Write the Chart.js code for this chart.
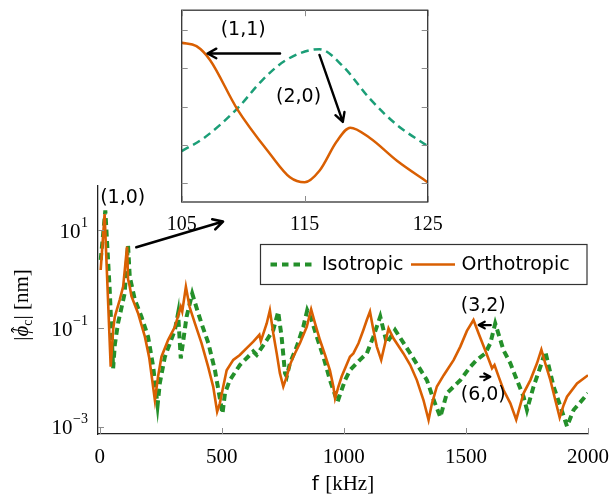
<!DOCTYPE html>
<html>
<head>
<meta charset="utf-8">
<script src="https://cdn.jsdelivr.net/npm/chart.js@4.4.1/dist/chart.umd.min.js"></script>
<style>
  html, body { margin: 0; padding: 0; background: #fff; }
  #wrap { position: relative; width: 612px; height: 498px; }
  #main { position: absolute; left: 0; top: 0; }
  #inset { position: absolute; left: 150px; top: 0; }
</style>
</head>
<body>
<div id="wrap">
  <canvas id="main" width="612" height="498"></canvas>
  <canvas id="inset" width="300" height="235"></canvas>
</div>
<script>
// response amplitude over the full band, f in kHz, |phi_c| in nm
const isoFreq = [4, 23, 41, 55, 62, 75, 102, 116, 123, 144, 171, 198, 219, 237, 246, 267, 308, 321, 332, 356,
  379, 398, 417, 445, 472, 503, 513, 533, 574, 629, 643, 684, 711, 731, 745, 759, 766, 779, 807, 834, 850, 868,
  889, 916, 943, 974, 1005, 1025, 1066, 1094, 1121, 1149, 1176, 1210, 1272, 1340, 1368, 1395, 1422, 1477, 1518,
  1545, 1579, 1600, 1620, 1654, 1682, 1709, 1736, 1750, 1777, 1805, 1825, 1859, 1887, 1914, 1941, 2000]
const isoMag = [2.45, 25, 0.6, 0.0155, 0.047, 0.127, 0.51, 5.0, 1.13, 0.38, 0.173, 0.068, 0.0167, 0.00275, 0.0076,
  0.0266, 0.093, 0.204, 0.0245, 0.174, 0.51, 0.25, 0.126, 0.05, 0.0141, 0.00186, 0.0048, 0.0089, 0.018, 0.034,
  0.029, 0.0575, 0.093, 0.219, 0.068, 0.0123, 0.0105, 0.0195, 0.0427, 0.108, 0.234, 0.148, 0.068, 0.0266, 0.0089,
  0.0032, 0.0089, 0.0141, 0.023, 0.031, 0.068, 0.174, 0.05, 0.093, 0.031, 0.0089, 0.0035, 0.00158, 0.0048, 0.0089,
  0.0166, 0.023, 0.031, 0.05, 0.126, 0.036, 0.0195, 0.0089, 0.0041, 0.0022, 0.0066, 0.0166, 0.034, 0.0066, 0.0026,
  0.00102, 0.0022, 0.0048]

const orthoFreq = [4, 20, 45, 55, 62, 82, 96, 112, 116, 123, 130, 157, 185, 203, 226, 239, 253, 280, 308, 332, 338,
  353, 368, 390, 417, 444, 465, 481, 492, 506, 520, 547, 574, 602, 629, 654, 660, 684, 697, 711, 725, 738, 752, 766,
  779, 793, 820, 848, 866, 882, 902, 923, 943, 957, 964, 978, 991, 1025, 1039, 1060, 1080, 1094, 1107, 1121, 1135,
  1153, 1169, 1183, 1203, 1244, 1272, 1299, 1326, 1347, 1361, 1381, 1409, 1450, 1477, 1504, 1531, 1552, 1579, 1607,
  1617, 1634, 1654, 1682, 1706, 1736, 1764, 1791, 1809, 1825, 1846, 1866, 1884, 1900, 1914, 1955, 2000]
const orthoMag = [1.54, 21, 0.0167, 0.093, 0.174, 0.38, 0.71, 4.57, 1.0, 0.71, 0.45, 0.204, 0.068, 0.025, 0.00347,
  0.0105, 0.0266, 0.058, 0.108, 0.275, 0.219, 0.70, 0.275, 0.127, 0.05, 0.0167, 0.0065, 0.00204, 0.003, 0.0066,
  0.0141, 0.0229, 0.0288, 0.0398, 0.0537, 0.0741, 0.055, 0.126, 0.234, 0.079, 0.0311, 0.0123, 0.0066, 0.0105, 0.018,
  0.0266, 0.05, 0.108, 0.245, 0.126, 0.058, 0.0288, 0.0141, 0.0066, 0.0038, 0.0066, 0.0105, 0.0266, 0.031, 0.05,
  0.093, 0.148, 0.219, 0.093, 0.0427, 0.0229, 0.05, 0.1, 0.063, 0.031, 0.018, 0.0089, 0.0035, 0.00138, 0.003,
  0.0066, 0.0112, 0.0229, 0.0427, 0.089, 0.148, 0.079, 0.036, 0.0155, 0.018, 0.0105, 0.0056, 0.003, 0.0014, 0.0048,
  0.0089, 0.0195, 0.037, 0.0195, 0.0089, 0.0035, 0.00155, 0.00275, 0.0041, 0.0076, 0.0112]

// zoom on 105-125 kHz, amplitude in inset tick units
const zoomIsoFreq = [105, 106.8, 109.5, 111.6, 113.5, 116.2, 118.1, 120.3, 122.5, 125]
const zoomIsoAmp = [0.84, 1.18, 1.94, 2.70, 3.21, 3.49, 3.05, 2.20, 1.52, 0.97]
const zoomOrthoFreq = [105, 106.2, 107.3, 109.5, 112.2, 113.8, 115, 116.2, 117.6, 118.7, 120.3, 122.5, 125]
const zoomOrthoAmp = [3.66, 3.57, 3.21, 1.94, 0.76, 0.16, 0.03, 0.33, 1.09, 1.45, 1.18, 0.59, 0.03]

const xTicks = [0, 500, 1000, 1500, 2000]
const yTicks = [1e-3, 1e-1, 1e1]
const yTickExp = ['\u22123', '\u22121', '1']
const zoomXTicks = [105, 115, 125]
const zoomYTicks = [0, 1, 2, 3, 4]

const GREEN = '#24902a'
const TEAL = '#1b9e77'
const ORANGE = '#d95f02'
const SANS = '"DejaVu Sans", sans-serif'
const SERIF = '"Liberation Serif", "DejaVu Serif", serif'

const toPoints = (xs, ys) => xs.map((x, i) => ({ x, y: ys[i] }))

// open arrow head, drawn as two strokes
const drawArrow = (ctx, x1, y1, x2, y2, width, head) => {
  const a = Math.atan2(y2 - y1, x2 - x1)
  ctx.save()
  ctx.strokeStyle = '#000'
  ctx.lineWidth = width
  ctx.lineCap = 'round'
  ctx.lineJoin = 'round'
  ctx.beginPath()
  ctx.moveTo(x1, y1)
  ctx.lineTo(x2, y2)
  ctx.moveTo(x2 - head * Math.cos(a - 0.5), y2 - head * Math.sin(a - 0.5))
  ctx.lineTo(x2, y2)
  ctx.lineTo(x2 - head * Math.cos(a + 0.5), y2 - head * Math.sin(a + 0.5))
  ctx.stroke()
  ctx.restore()
}

// tick marks pointing into the plot area
const inwardTicks = {
  id: 'inwardTicks',
  afterDraw(chart, args, opts) {
    const { ctx, chartArea: a } = chart
    ctx.save()
    ctx.strokeStyle = '#8c8c8c'
    ctx.lineWidth = 1
    opts.x.forEach(v => {
      const px = Math.round(chart.scales.x.getPixelForValue(v)) + 0.5
      ctx.beginPath()
      ctx.moveTo(px, a.bottom); ctx.lineTo(px, a.bottom - opts.len)
      if (opts.mirror) { ctx.moveTo(px, a.top); ctx.lineTo(px, a.top + opts.len) }
      ctx.stroke()
    })
    opts.y.forEach(v => {
      const py = Math.round(chart.scales.y.getPixelForValue(v)) + 0.5
      ctx.beginPath()
      ctx.moveTo(a.left, py); ctx.lineTo(a.left + opts.len, py)
      if (opts.mirror) { ctx.moveTo(a.right, py); ctx.lineTo(a.right - opts.len, py) }
      ctx.stroke()
    })
    ctx.restore()
  }
}

// labels and arrows placed in data coordinates
const notes = {
  id: 'notes',
  afterDatasetsDraw(chart, args, opts) {
    const { ctx } = chart
    const sx = chart.scales.x, sy = chart.scales.y
    ctx.save()
    ctx.fillStyle = '#000'
    ctx.font = '19px ' + SANS
    ctx.textAlign = 'center'
    ctx.textBaseline = 'middle'
    opts.labels.forEach(l => ctx.fillText(l.text, sx.getPixelForValue(l.x), sy.getPixelForValue(l.y)))
    opts.arrows.forEach(r => drawArrow(ctx,
      sx.getPixelForValue(r.from[0]), sy.getPixelForValue(r.from[1]),
      sx.getPixelForValue(r.to[0]), sy.getPixelForValue(r.to[1]), r.width, r.head))
    ctx.restore()
  }
}

// legend box, y tick labels with exponents and the axis titles
const decorations = {
  id: 'decorations',
  afterDraw(chart) {
    const { ctx, chartArea: a } = chart
    const sy = chart.scales.y
    ctx.save()
    ctx.fillStyle = '#000'

    // y tick labels: 10^n
    ctx.textBaseline = 'middle'
    yTicks.forEach((v, i) => {
      const py = sy.getPixelForValue(v)
      const right = a.left - 10
      ctx.font = '14px ' + SERIF
      const w = ctx.measureText(yTickExp[i]).width
      ctx.textAlign = 'left'
      ctx.fillText(yTickExp[i], right - w, py - 7)
      ctx.font = '21px ' + SERIF
      ctx.textAlign = 'right'
      ctx.fillText('10', right - w - 0.5, py + 2)
    })

    // x title
    ctx.textAlign = 'left'
    ctx.textBaseline = 'alphabetic'
    ctx.font = '20px ' + SANS
    const wf = ctx.measureText('f ').width
    ctx.font = '21px ' + SERIF
    const wk = ctx.measureText('[kHz]').width
    const x0 = (a.left + a.right) / 2 - (wf + wk) / 2
    ctx.font = '20px ' + SANS
    ctx.fillText('f ', x0, 490)
    ctx.font = '21px ' + SERIF
    ctx.fillText('[kHz]', x0 + wf, 490)

    // y title, rotated
    ctx.save()
    ctx.translate(28, 305)
    ctx.rotate(-Math.PI / 2)
    const parts = [
      { t: '|', f: '21px ' + SERIF, dy: 0 },
      { t: '\u03d5', f: 'italic 21px ' + SERIF, dy: 0, hat: true },
      { t: 'c', f: '14px ' + SERIF, dy: 4 },
      { t: '|', f: '21px ' + SERIF, dy: 0 },
      { t: ' [nm]', f: '21px ' + SERIF, dy: 0 }
    ]
    let total = 0
    parts.forEach(p => { ctx.font = p.f; p.w = ctx.measureText(p.t).width; total += p.w })
    let cx = -total / 2
    parts.forEach(p => {
      ctx.font = p.f
      ctx.fillText(p.t, cx, p.dy)
      if (p.hat) {
        ctx.font = '19px ' + SERIF
        ctx.textAlign = 'center'
        ctx.fillText('\u02c6', cx + p.w / 2 + 1, -4)
        ctx.textAlign = 'left'
      }
      cx += p.w
    })
    ctx.restore()

    // legend
    const lx = 260.5, ly = 244.5, lw = 326.5, lh = 40
    ctx.fillStyle = '#fff'
    ctx.fillRect(lx, ly, lw, lh)
    ctx.strokeStyle = '#333'
    ctx.lineWidth = 1.2
    ctx.strokeRect(lx, ly, lw, lh)
    const my = ly + lh / 2
    ctx.lineWidth = 4
    ctx.strokeStyle = GREEN
    ctx.setLineDash([6.5, 5])
    ctx.beginPath(); ctx.moveTo(270.5, my); ctx.lineTo(313, my); ctx.stroke()
    ctx.setLineDash([])
    ctx.lineWidth = 2.6
    ctx.strokeStyle = ORANGE
    ctx.beginPath(); ctx.moveTo(411, my); ctx.lineTo(455, my); ctx.stroke()
    ctx.fillStyle = '#000'
    ctx.font = '19px ' + SANS
    ctx.textBaseline = 'middle'
    ctx.fillText(chart.data.datasets[0].label, 322, my + 1)
    ctx.fillText(chart.data.datasets[1].label, 461.5, my + 1)
    ctx.restore()
  }
}

new Chart(document.getElementById('main'), {
  type: 'line',
  data: {
    datasets: [
      {
        label: 'Isotropic',
        data: toPoints(isoFreq, isoMag),
        borderColor: GREEN,
        borderWidth: 4,
        borderDash: [7, 4.5],
        pointRadius: 0,
        tension: 0,
        order: 2
      },
      {
        label: 'Orthotropic',
        data: toPoints(orthoFreq, orthoMag),
        borderColor: ORANGE,
        borderWidth: 2.6,
        pointRadius: 0,
        tension: 0,
        order: 1
      }
    ]
  },
  options: {
    responsive: false,
    animation: false,
    devicePixelRatio: 1,
    layout: { padding: { top: 186, right: 24, left: 0, bottom: 0 } },
    plugins: {
      legend: { display: false },
      tooltip: { enabled: false },
      inwardTicks: { x: xTicks, y: yTicks, len: 6, mirror: false },
      notes: {
        labels: [
          { text: '(1,0)', x: 94, y: 44.7 },
          { text: '(3,2)', x: 1571, y: 0.285 },
          { text: '(6,0)', x: 1571, y: 0.00443 }
        ],
        arrows: [
          { from: [150, 4.45], to: [505, 14.8], width: 2.6, head: 11 },
          { from: [1602, 0.117], to: [1552, 0.117], width: 2.2, head: 7 },
          { from: [1559, 0.0104], to: [1600, 0.0104], width: 2.2, head: 7 }
        ]
      }
    },
    scales: {
      x: {
        type: 'linear',
        min: -7,
        max: 2000,
        afterBuildTicks: s => { s.ticks = xTicks.map(v => ({ value: v })) },
        afterFit: s => { s.height = 64 },
        grid: { display: false },
        border: { display: true, color: '#222', width: 1.3 },
        ticks: {
          font: { family: SERIF, size: 21 },
          color: '#000',
          padding: 3,
          maxRotation: 0,
          autoSkip: false,
          callback: v => String(v)
        }
      },
      y: {
        type: 'logarithmic',
        min: Math.pow(10, -3.146),
        max: Math.pow(10, 1.894),
        afterBuildTicks: s => { s.ticks = yTicks.map(v => ({ value: v })) },
        afterFit: s => { s.width = 98 },
        grid: { display: false },
        border: { display: true, color: '#222', width: 1.3 },
        ticks: { callback: () => '' }
      }
    }
  },
  plugins: [inwardTicks, notes, decorations]
})

// white plot area with a full frame
const frame = {
  id: 'frame',
  beforeDatasetsDraw(chart) {
    const { ctx, chartArea: a } = chart
    ctx.save()
    ctx.fillStyle = '#fff'
    ctx.fillRect(a.left, a.top, a.right - a.left, a.bottom - a.top)
    ctx.restore()
  },
  afterDraw(chart) {
    const { ctx, chartArea: a } = chart
    ctx.save()
    ctx.strokeStyle = '#333'
    ctx.lineWidth = 1.3
    ctx.strokeRect(a.left, a.top, a.right - a.left, a.bottom - a.top)
    ctx.restore()
  }
}

new Chart(document.getElementById('inset'), {
  type: 'line',
  data: {
    datasets: [
      {
        label: 'Isotropic',
        data: toPoints(zoomIsoFreq, zoomIsoAmp),
        borderColor: TEAL,
        borderWidth: 2.5,
        borderDash: [8, 5],
        pointRadius: 0,
        cubicInterpolationMode: 'monotone',
        order: 2
      },
      {
        label: 'Orthotropic',
        data: toPoints(zoomOrthoFreq, zoomOrthoAmp),
        borderColor: ORANGE,
        borderWidth: 2.5,
        pointRadius: 0,
        cubicInterpolationMode: 'monotone',
        order: 1
      }
    ]
  },
  options: {
    responsive: false,
    animation: false,
    devicePixelRatio: 1,
    layout: { padding: { top: 6, right: 22.3, left: 0, bottom: 0 } },
    plugins: {
      legend: { display: false },
      tooltip: { enabled: false },
      inwardTicks: { x: zoomXTicks, y: zoomYTicks, len: 6, mirror: true },
      notes: {
        labels: [
          { text: '(1,1)', x: 110, y: 3.98 },
          { text: '(2,0)', x: 114.5, y: 2.24 }
        ],
        arrows: [
          { from: [113, 3.38], to: [107.1, 3.38], width: 2.4, head: 10 },
          { from: [116.2, 3.34], to: [118.1, 1.6], width: 2.4, head: 10 }
        ]
      }
    },
    scales: {
      x: {
        type: 'linear',
        min: 105,
        max: 125,
        afterBuildTicks: s => { s.ticks = zoomXTicks.map(v => ({ value: v })) },
        afterFit: s => { s.height = 33 },
        grid: { display: false },
        border: { display: false },
        ticks: { font: { family: SERIF, size: 20 }, color: '#000', padding: 3, maxRotation: 0, autoSkip: false }
      },
      y: {
        type: 'linear',
        min: -0.483,
        max: 4.504,
        afterBuildTicks: s => { s.ticks = zoomYTicks.map(v => ({ value: v })) },
        afterFit: s => { s.width = 31.7 },
        grid: { display: false },
        border: { display: false },
        ticks: { callback: () => '' }
      }
    }
  },
  plugins: [frame, inwardTicks, notes]
})
</script>
</body>
</html>
